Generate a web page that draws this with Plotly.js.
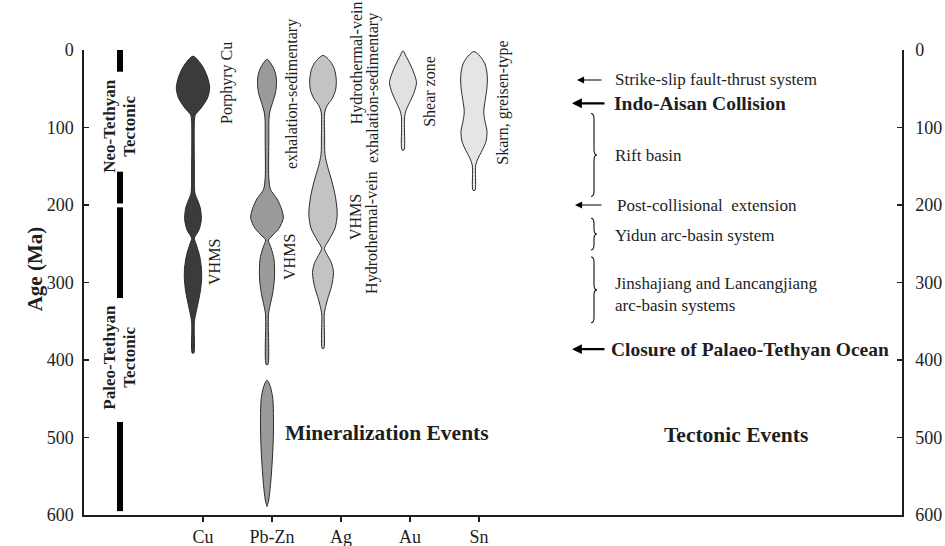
<!DOCTYPE html>
<html><head><meta charset="utf-8">
<script src="https://cdn.plot.ly/plotly-3.0.1.min.js"></script>
<style>html,body{margin:0;padding:0;background:#fff}#chart{width:945px;height:546px}</style>
</head><body><div id="chart"></div>
<script>
// ---------- data ----------
const minerals = ['Cu', 'Pb-Zn', 'Ag', 'Au', 'Sn'];
const ageTicks = [0, 100, 200, 300, 400, 500, 600];

// violin profiles: age (Ma) and relative frequency (half-width)
const cuAge  = [8, 20, 35, 49, 62, 75, 84, 92, 150, 185, 195, 205, 219, 232, 243, 250, 265, 280, 293, 310, 330, 345, 352, 360, 391];
const cuFreq = [0, 9, 14.5, 16.7, 14.5, 8, 2.2, 1.4, 1.4, 2.0, 5, 7.5, 8.3, 6, 1.4, 3, 6.5, 8.3, 8.7, 7.5, 4.5, 2, 1.3, 1.2, 0.8];

const pbAge  = [12, 22, 32, 43, 55, 68, 80, 88, 120, 165, 180, 192, 205, 217, 230, 240, 245, 255, 270, 294, 315, 330, 340, 350, 406];
const pbFreq = [0, 6, 8.8, 9.5, 8.5, 5.5, 2.8, 2.0, 1.8, 1.8, 3.5, 10, 14.5, 16.3, 12, 5, 1.4, 4, 7, 7.5, 5.5, 3, 1.6, 1.3, 0.8];
const pbAge2  = [426, 435, 450, 475, 500, 525, 550, 570, 582, 589];
const pbFreq2 = [0, 3.5, 5.8, 6.5, 6.3, 5.5, 4.2, 2.8, 1.5, 0];

const agAge  = [7, 15, 25, 39, 52, 63, 72, 80, 110, 135, 150, 170, 190, 212, 230, 245, 256, 265, 275, 287, 305, 322, 335, 342, 385];
const agFreq = [0, 7.5, 11.5, 13.3, 12.5, 9, 4, 1.8, 1.6, 2, 4.5, 9, 12.5, 14.2, 12, 6, 1.4, 4.5, 8.5, 10.5, 8.5, 4.5, 2, 1.2, 0.8];

const auAge  = [1, 8, 18, 30, 42, 55, 68, 78, 86, 100, 129];
const auFreq = [0, 3, 7, 11, 13.5, 11, 6.5, 3, 1.6, 1.4, 1.0];

const snAge  = [2, 8, 18, 32, 48, 62, 75, 82, 92, 105, 118, 130, 140, 148, 155, 181];
const snFreq = [0, 6, 11, 13.2, 13, 11.5, 10, 9.8, 11, 13, 12, 8, 4, 1.8, 1.4, 1.0];

// tectonic regime bars (Ma)
const regimeStart = [0, 157, 203, 480];
const regimeEnd   = [28, 198, 320, 595];

// tectonic event braces (Ma)
const braceStart = [82, 217, 267];
const braceEnd   = [189, 258, 352];

// ---------- layout helpers (pixel geometry) ----------
const PL = 84, PR = 902, PT = 50, PB = 515;
const TICK0 = 203, STEP = 69;
const px2x = p => (p - TICK0) / STEP;
const px2paper = p => (p - PL) / (PR - PL);
const FONT = 'Liberation Serif, Times New Roman, serif';
const INK = '#1e1e1e';

const violins = [
  {cat: 0, shift: -10, age: cuAge, f: cuFreq, color: '#3b3b3b'},
  {cat: 1, shift: -5, age: pbAge, f: pbFreq, color: '#9a9a9a'},
  {cat: 1, shift: -5, age: pbAge2, f: pbFreq2, color: '#9a9a9a'},
  {cat: 2, shift: -18, age: agAge, f: agFreq, color: '#c3c3c3'},
  {cat: 3, shift: -7, age: auAge, f: auFreq, color: '#e1e1e1'},
  {cat: 4, shift: -5, age: snAge, f: snFreq, color: '#e5e5e5'}
];

const traces = [];
violins.forEach(v => {
  const c = v.cat + v.shift / STEP;
  const xs = v.age.map((a, i) => c + v.f[i] / STEP)
    .concat(v.age.slice().reverse().map((a, i) => c - v.f[v.f.length - 1 - i] / STEP));
  const ys = v.age.concat(v.age.slice().reverse());
  traces.push({
    type: 'scatter', mode: 'lines', x: xs, y: ys, fill: 'toself',
    fillcolor: v.color, line: {color: '#2a2a2a', width: 1, shape: 'spline', smoothing: 0.8},
    hoverinfo: 'skip', showlegend: false
  });
});

// tectonic regime bars
const barX = px2x(120);
const bx = [], by = [];
regimeStart.forEach((s, i) => { bx.push(barX, barX, null); by.push(s, regimeEnd[i], null); });
traces.push({type: 'scatter', mode: 'lines', x: bx, y: by, line: {color: '#000', width: 6},
  hoverinfo: 'skip', showlegend: false, cliponaxis: false});

// dummy for right axis
traces.push({type: 'scatter', mode: 'markers', x: [0], y: [0], yaxis: 'y2',
  marker: {opacity: 0}, hoverinfo: 'skip', showlegend: false});

// ---------- annotations ----------
const ann = [];
function vtext(t, xp, age, size, bold) {
  ann.push({text: bold ? '<b>' + t + '</b>' : t, x: px2x(xp), y: age, xref: 'x', yref: 'y',
    textangle: -90, showarrow: false, font: {family: FONT, size: size, color: INK}});
}
function htext(t, xp, age, size, bold, anchor, align) {
  ann.push({text: bold ? '<b>' + t + '</b>' : t, x: px2x(xp), y: age, xref: 'x', yref: 'y',
    xanchor: anchor || 'left', align: align || 'left', showarrow: false,
    font: {family: FONT, size: size, color: INK}});
}
function arrow(headP, tailP, age, w) {
  ann.push({text: '', x: px2x(headP), y: age, xref: 'x', yref: 'y', showarrow: true,
    ax: tailP - headP, ay: 0, arrowhead: 2, arrowsize: w > 1.5 ? 0.9 : 1.3, arrowwidth: w,
    arrowcolor: '#000', standoff: 0});
}

// axis title (outside x range -> paper reference)
ann.push({text: '<b>Age (Ma)</b>', x: px2paper(21), xref: 'paper', y: 283, yref: 'y',
  textangle: -90, showarrow: false, font: {family: FONT, size: 21, color: INK}});

vtext('Neo-Tethyan', 110, 99, 17, true);
vtext('Tectonic', 130, 99, 17, true);
vtext('Paleo-Tethyan', 110, 397, 17, true);
vtext('Tectonic', 130, 397, 17, true);

vtext('Porphyry Cu', 227, 42.6, 16);
vtext('VHMS', 215, 273.5, 16);
vtext('exhalation-sedimentary', 292, 56.8, 16);
vtext('VHMS', 290, 267, 16);
vtext('Hydrothermal-vein', 357, 17, 16);
vtext('exhalation-sedimentary', 373, 49, 16);
vtext('VHMS', 355, 215.5, 16);
vtext('Hydrothermal-vein', 372, 236, 16);
vtext('Shear zone', 430, 54, 16);
vtext('Skarn, greisen-type', 503, 68, 16);

htext('Mineralization Events', 387, 494, 21.5, true, 'center');
htext('Tectonic Events', 736, 497, 21.5, true, 'center');

htext('Strike-slip fault-thrust system', 613, 38.7, 17);
htext('Indo-Aisan Collision', 612, 68.8, 19.5, true);
htext('Rift basin', 613, 136, 17);
htext('Post-collisional \u00a0extension', 615, 200, 17);
htext('Yidun arc-basin system', 613, 239, 17);
htext('Jinshajiang and Lancangjiang<br>arc-basin systems', 613, 316, 17);
htext('Closure of Palaeo-Tethyan Ocean', 609, 386, 19.5, true);

arrow(577, 603, 38.7, 1.1);
arrow(572, 606, 68.8, 2.2);
arrow(575, 603, 200, 1.1);
arrow(572, 606, 386, 2.2);

// braces
const shapes = [];
const ba = px2x(591), bd = 3 / STEP, k = 7;
braceStart.forEach((s, i) => {
  const e = braceEnd[i], m = (s + e) / 2;
  const p = `M ${ba},${s} Q ${ba + bd},${s} ${ba + bd},${s + k} L ${ba + bd},${m - k} ` +
    `Q ${ba + bd},${m} ${ba + 2 * bd},${m} Q ${ba + bd},${m} ${ba + bd},${m + k} ` +
    `L ${ba + bd},${e - k} Q ${ba + bd},${e} ${ba},${e}`;
  shapes.push({type: 'path', path: p, xref: 'x', yref: 'y', line: {color: '#111', width: 1.1}});
});

const axisCommon = {
  range: [600, 0], tickvals: ageTicks, ticks: 'inside', ticklen: 5, tickwidth: 1.3,
  tickcolor: INK, showline: true, linecolor: INK, linewidth: 1.6, showgrid: false,
  zeroline: false, fixedrange: true, tickfont: {family: FONT, size: 18, color: INK}
};

const layout = {
  width: 945, height: 546,
  margin: {l: PL, r: 945 - PR, t: PT, b: 546 - PB, pad: 0},
  paper_bgcolor: '#fff', plot_bgcolor: '#fff',
  showlegend: false,
  xaxis: {
    range: [px2x(PL), px2x(PR)], tickvals: [0, 1, 2, 3, 4], ticktext: minerals,
    ticks: 'outside', ticklen: 5, tickwidth: 1.3, tickcolor: INK,
    showline: true, linecolor: INK, linewidth: 1.6, showgrid: false, zeroline: false,
    fixedrange: true, tickfont: {family: FONT, size: 18, color: INK}
  },
  yaxis: Object.assign({}, axisCommon, {ticklabelstandoff: 5}),
  yaxis2: Object.assign({}, axisCommon, {overlaying: 'y', side: 'right', anchor: 'x', ticklabelstandoff: 8}),
  annotations: ann,
  shapes: shapes
};

Plotly.newPlot('chart', traces, layout, {displayModeBar: false, staticPlot: true});
</script>
</body></html>
